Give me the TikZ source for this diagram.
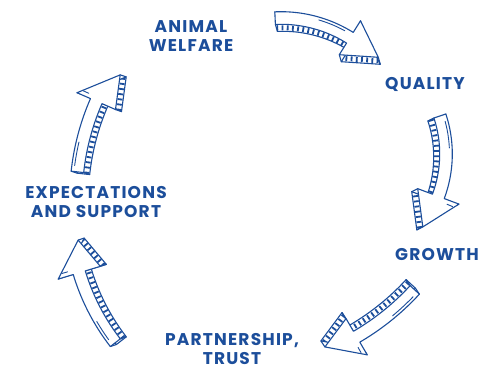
\documentclass[tikz,border=0pt]{standalone}
\usepackage{fontspec}
\setmainfont{Poppins}[LetterSpace=7]
\definecolor{ink}{RGB}{28,78,155}
\tikzset{
  arline/.style={draw=ink, line width=1.1pt, line join=round, line cap=round},
  hatchline/.style={draw=ink, line width=5pt, dash pattern=on 1.8pt off 3.4pt},
  hiline/.style={draw=ink, line width=0.9pt, line cap=round},
  lbl/.style={text=ink, font=\fontsize{17}{19}\selectfont\bfseries, align=center, inner sep=0pt},
}
\def\cyHw{6.3}
\def\cyHh{20}
\newcommand\cyPath{plot[domain=\cyA:\cyB,samples=30] ({\cyCx+(\cyR+\cyHw)*cos(\x)},{\cyCy+(\cyR+\cyHw)*sin(\x)})
  -- ({\cyCx+(\cyR+\cyHh)*cos(\cyB)},{\cyCy+(\cyR+\cyHh)*sin(\cyB)})
  -- ({\cyCx+\cyRt*cos(\cyC)},{\cyCy+\cyRt*sin(\cyC)})
  -- ({\cyCx+(\cyR-\cyHh)*cos(\cyB)},{\cyCy+(\cyR-\cyHh)*sin(\cyB)})
  -- plot[domain=\cyB:\cyA,samples=30] ({\cyCx+(\cyR-\cyHw)*cos(\x)},{\cyCy+(\cyR-\cyHw)*sin(\x)}) -- cycle}
\newcommand\cyArrow[9]{%
  \def\cyCx{#1}\def\cyCy{#2}\def\cyR{#3}\def\cyA{#4}\def\cyB{#5}\def\cyC{#6}\def\cyRt{#7}\def\cyEx{#8}\def\cyEy{#9}%
  \fill[white, shift={(\cyEx,\cyEy)}] \cyPath;
  \begin{scope}
    \clip[shift={(\cyEx,\cyEy)}] \cyPath;
    \draw[hatchline] plot[domain=\cyA:\cyB,samples=30] ({\cyCx+(\cyR-\cyHw)*cos(\x)+\cyEx/2},{\cyCy+(\cyR-\cyHw)*sin(\x)+\cyEy/2});
    \draw[hatchline] ({\cyCx+(\cyR-\cyHh)*cos(\cyB)+\cyEx/2},{\cyCy+(\cyR-\cyHh)*sin(\cyB)+\cyEy/2}) -- ({\cyCx+\cyRt*cos(\cyC)+\cyEx/2},{\cyCy+\cyRt*sin(\cyC)+\cyEy/2});
  \end{scope}
  \draw[arline, shift={(\cyEx,\cyEy)}] \cyPath;
  \foreach \rr/\aa in {\cyR+\cyHw/\cyA, \cyR-\cyHw/\cyA, \cyR-\cyHw/\cyB, \cyR-\cyHh/\cyB, \cyRt/\cyC, \cyR+\cyHh/\cyB}
    \draw[arline] ({\cyCx+(\rr)*cos(\aa)},{\cyCy+(\rr)*sin(\aa)}) -- ++(\cyEx,\cyEy);
  \draw[arline, fill=white] \cyPath;
}
\newcommand\cyHi[2]{%
  \pgfmathsetmacro\cyHiA{\cyA+(#1)*(\cyB-\cyA)}%
  \pgfmathsetmacro\cyHiB{\cyA+(#2)*(\cyB-\cyA)}%
  \draw[hiline] plot[domain=\cyHiA:\cyHiB,samples=12] ({\cyCx+(\cyR+\cyHw-2.8)*cos(\x)},{\cyCy+(\cyR+\cyHw-2.8)*sin(\x)});
}
\newcommand\cyHd{%
  \pgfmathsetmacro\cyHdA{\cyB+4*57.3/\cyR}%
  \draw[hiline] ({\cyCx+(\cyR+\cyHh-5)*cos(\cyHdA)},{\cyCy+(\cyR+\cyHh-5)*sin(\cyHdA)}) -- ({\cyCx+(\cyR+\cyHh-11)*cos(\cyHdA)},{\cyCy+(\cyR+\cyHh-11)*sin(\cyHdA)});
}
\begin{document}
\begin{tikzpicture}[x=1pt,y=-1pt]
  \useasboundingbox (0,0) rectangle (495,371);
  \fill[white] (0,0) rectangle (495,371);
  % arrow 1: Animal welfare -> Quality
  \def\cyHh{20}
  \cyArrow{281}{148}{130}{267.4}{302}{317}{133}{2}{7}
  \cyHi{0.55}{0.9}
  % arrow 2: Quality -> Growth
  \def\cyHh{22}
  \cyArrow{325}{154}{121}{-18.3}{20.5}{36.7}{122}{-6}{3}
  \cyHi{0.08}{0.4}
  \cyHd
  % arrow 3: Growth -> Partnership
  \def\cyHh{21}
  \cyArrow{230}{120}{251}{42.6}{59.7}{67.3}{246}{-4}{-6}
  \cyHi{0.08}{0.45}
  \cyHd
  % arrow 4: Partnership -> Expectations
  \def\cyHh{22}
  \cyArrow{287}{210}{217}{142.3}{163.2}{171.8}{211}{6}{-2}
  \cyHi{0.08}{0.35}
  \cyHd
  % arrow 5: Expectations -> Animal welfare
  \def\cyHh{21}
  \cyArrow{318}{198}{242}{186.2}{203.6}{211.9}{233}{6}{2}
  \cyHi{0.08}{0.4}
  \cyHd
  % labels
  \node[lbl] (aw) at (191,36) {ANIMAL\\WELFARE};
  \node[lbl] (q) at (425,84) {QUALITY};
  \node[lbl] (g) at (437,255) {GROWTH};
  \node[lbl] (pt) at (232,349) {PARTNERSHIP,\\TRUST};
  \node[lbl] (es) at (96,202) {EXPECTATIONS\\AND SUPPORT};
\end{tikzpicture}
\end{document}
